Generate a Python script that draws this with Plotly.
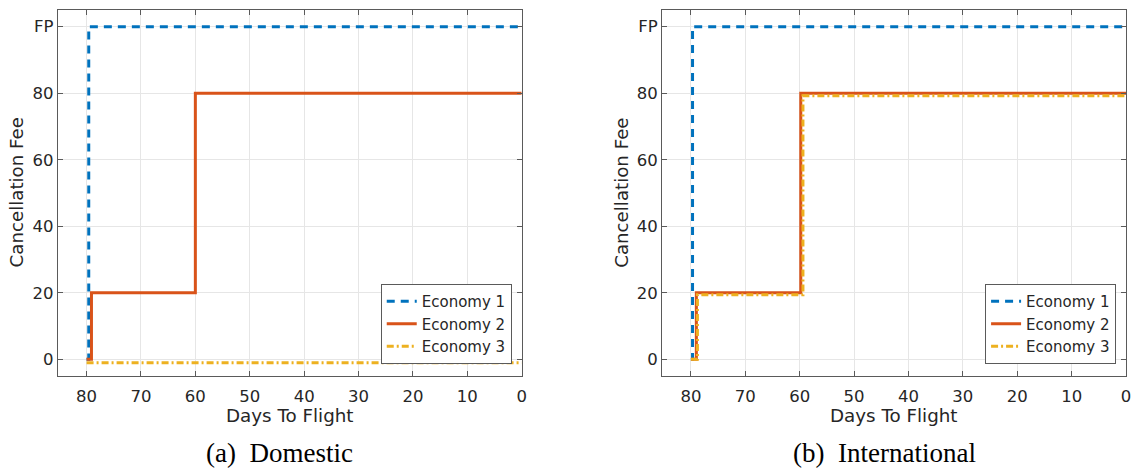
import plotly.graph_objects as go

# Domestic
dom_e1_x = [80, 79.6, 79.6, 0]
dom_e1_y = [0, 0, 100, 100]
dom_e2_x = [80, 79.1, 79.1, 60, 60, 0]
dom_e2_y = [0, 0, 20, 20, 80, 80]
dom_e3_x = [80, 0]
dom_e3_y = [-1, -1]

# International
int_e1_x = [80, 79.7, 79.7, 0]
int_e1_y = [0, 0, 100, 100]
int_e2_x = [80, 79.0, 79.0, 59.8, 59.8, 0]
int_e2_y = [0, 0, 20, 20, 80, 80]
int_e3_x = [80, 78.8, 78.8, 59.4, 59.4, 0]
int_e3_y = [0, 0, 19.4, 19.4, 79.2, 79.2]

series_names = ["Economy 1", "Economy 2", "Economy 3"]
y_tickvals = [0, 20, 40, 60, 80, 100]
y_ticktext = ["0", "20", "40", "60", "80", "FP"]
x_tickvals = [80, 70, 60, 50, 40, 30, 20, 10, 0]
captions = ["(a)  Domestic", "(b)  International"]

colors = ["#0072BD", "#D95319", "#EDB120"]
dashes = ["8px,6px", "solid", "7px,3px,2px,3px"]

fig = go.Figure()
data = [
    [(dom_e1_x, dom_e1_y), (dom_e2_x, dom_e2_y), (dom_e3_x, dom_e3_y)],
    [(int_e1_x, int_e1_y), (int_e2_x, int_e2_y), (int_e3_x, int_e3_y)],
]
for p, sets in enumerate(data):
    for i, (xs, ys) in enumerate(sets):
        fig.add_trace(go.Scatter(
            x=xs, y=ys, mode="lines", name=series_names[i],
            line=dict(color=colors[i], width=3, dash=dashes[i]),
            xaxis="x" if p == 0 else "x2", yaxis="y" if p == 0 else "y2",
            legend="legend" if p == 0 else "legend2",
        ))

axis_common = dict(showline=True, linecolor="#5a5a5a", linewidth=1, mirror="allticks",
                   ticks="inside", ticklen=5, tickcolor="#5a5a5a",
                   showgrid=True, gridcolor="#e6e6e6", gridwidth=1, zeroline=False,
                   tickfont=dict(family="DejaVu Sans", size=16.5, color="#262626"))

xdoms = [[58/1138, 524/1138], [665/1138, 1131/1138]]
ydom = [1 - 376/470, 1 - 10/470]

layout = dict(
    width=1138, height=470, margin=dict(l=0, r=0, t=0, b=0),
    paper_bgcolor="white", plot_bgcolor="white", showlegend=True,
)
for p in range(2):
    xa = "xaxis" if p == 0 else "xaxis2"
    ya = "yaxis" if p == 0 else "yaxis2"
    layout[xa] = dict(axis_common, domain=xdoms[p], range=[85.3, 0], tickvals=x_tickvals,
                      anchor="y" if p == 0 else "y2", ticklabelstandoff=5)
    layout[ya] = dict(axis_common, domain=ydom, range=[-5, 105], tickvals=y_tickvals,
                      ticktext=y_ticktext, anchor="x" if p == 0 else "x2")
    lg = "legend" if p == 0 else "legend2"
    layout[lg] = dict(x=xdoms[p][1] - 10/1138, y=1 - 364/470, xanchor="right", yanchor="bottom",
                      bgcolor="white", bordercolor="#5a5a5a", borderwidth=1,
                      font=dict(family="DejaVu Sans", size=15, color="#262626"),
                      tracegroupgap=0, itemwidth=30)
fig.update_layout(**layout)

cap_x = [281, 888]
ylab_x = [17, 624]
for p in range(2):
    cx = (xdoms[p][0] + xdoms[p][1]) / 2
    fig.add_annotation(text="Days To Flight", x=cx, y=1 - 415/470, xref="paper", yref="paper",
                       xanchor="center", yanchor="middle", showarrow=False,
                       font=dict(family="DejaVu Sans", size=18.3, color="#262626"))
    fig.add_annotation(text="Cancellation Fee", x=ylab_x[p]/1138, y=1 - 192.5/470,
                       xref="paper", yref="paper", textangle=-90, showarrow=False,
                       xanchor="center", yanchor="middle",
                       font=dict(family="DejaVu Sans", size=18.2, color="#262626"))
    fig.add_annotation(text=captions[p], x=cap_x[p]/1138, y=1 - 453/470, xref="paper", yref="paper",
                       xanchor="center", yanchor="middle", showarrow=False,
                       font=dict(family="Liberation Serif", size=27, color="black"))

fig.write_html("out.html")
